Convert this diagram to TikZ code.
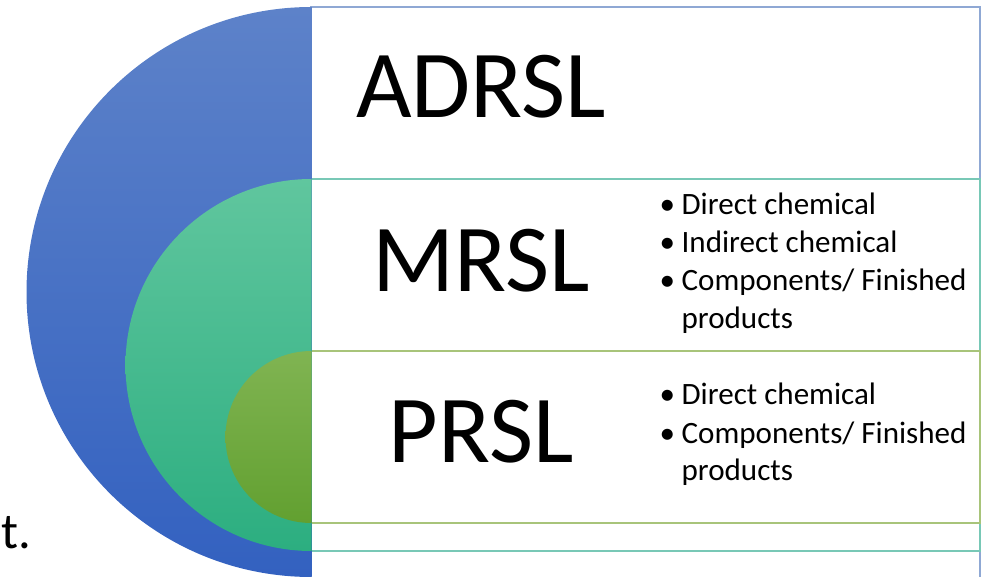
\documentclass[tikz,border=0pt]{standalone}
\usepackage{fontspec}
\setmainfont{Carlito}

\definecolor{adrslTop}{RGB}{93,130,201}
\definecolor{adrslBot}{RGB}{51,97,192}
\definecolor{mrslTop}{RGB}{96,198,158}
\definecolor{mrslBot}{RGB}{44,174,128}
\definecolor{prslTop}{RGB}{128,180,82}
\definecolor{prslBot}{RGB}{98,160,48}
\definecolor{adrslLine}{RGB}{143,168,212}
\definecolor{mrslLine}{RGB}{120,200,182}
\definecolor{prslLine}{RGB}{168,196,122}

\tikzset{every picture/.style={line width=0.75pt}}
\tikzset{
  bigname/.style={font=\fontsize{72}{80}\selectfont, inner sep=0pt, anchor=base},
  bullets/.style={font=\fontsize{23.3}{28.5}\selectfont, inner sep=0pt, anchor=base west}
}
\newcommand{\bl}{\textbullet\hspace{5pt}}

\begin{document}
\begin{tikzpicture}[x=0.75pt,y=0.75pt,yscale=-1,xscale=1]
	\useasboundingbox (0,0) rectangle (993,577);
	
	%Shape: Rectangle (ADRSL)
	\draw [color=adrslLine, line width=1.1, fill=white]  (311,7) rectangle (980,590) ;
	%Shape: Rectangle (MRSL)
	\draw [color=mrslLine, line width=1.1, fill=white]  (311,179) rectangle (980,551) ;
	%Shape: Rectangle (PRSL)
	\draw [color=prslLine, line width=1.1, fill=white]  (311,351) rectangle (980,523) ;
	
	%Shape: Half Circle (ADRSL)
	\shade [top color=adrslTop, bottom color=adrslBot]  (311.5,7) arc [start angle=270, end angle=90, radius=285] -- cycle ;
	%Shape: Half Circle (MRSL)
	\shade [top color=mrslTop, bottom color=mrslBot]  (311.5,179) arc [start angle=270, end angle=90, radius=186] -- cycle ;
	%Shape: Half Circle (PRSL)
	\shade [top color=prslTop, bottom color=prslBot]  (311.5,351) arc [start angle=270, end angle=90, radius=86] -- cycle ;
	
	%Text
	\node [bigname] (adrsl) at (481,118) {ADRSL};
	\node [bigname] (mrsl) at (481,292) {MRSL};
	\node [bigname] (prsl) at (481,462) {PRSL};
	
	\node [bullets] (mrslitems) at (659,215) {\begin{tabular}[t]{@{}l@{}}
		\bl Direct chemical\\
		\bl Indirect chemical\\
		\bl Components/ Finished\\
		\phantom{\bl}products
	\end{tabular}};
	\node [bullets] (prslitems) at (659,405) {\begin{tabular}[t]{@{}l@{}}
		\bl Direct chemical\\
		\bl Components/ Finished\\
		\phantom{\bl}products
	\end{tabular}};
	
	\node [font=\fontsize{38}{44}\selectfont, inner sep=0pt, anchor=base west] (cut) at (1,548) {t.};
	
\end{tikzpicture}
\end{document}
